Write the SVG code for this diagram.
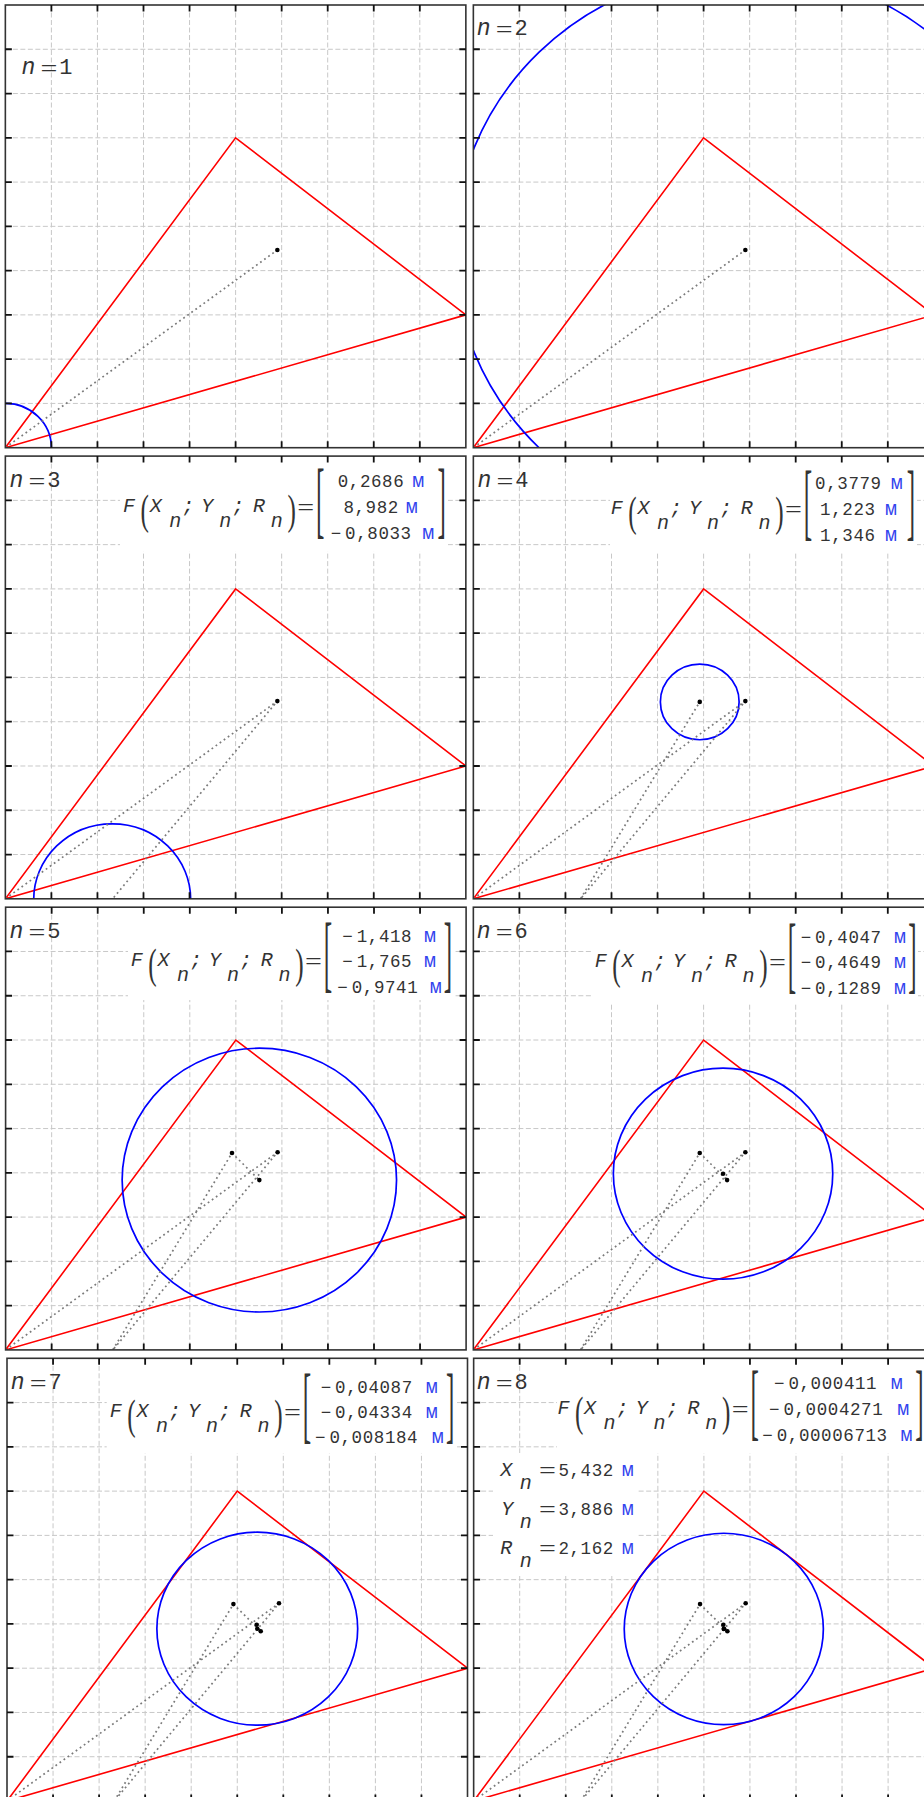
<svg xmlns="http://www.w3.org/2000/svg" xmlns:xlink="http://www.w3.org/1999/xlink" width="924" height="1797" viewBox="0 0 924 1797">
<style>
.grid{fill:none;stroke:#c8c8c8;stroke-width:1;stroke-dasharray:5 2.5}
.frame{fill:none;stroke:#333;stroke-width:1.6}
.ticks{fill:none;stroke:#111;stroke-width:1.8}
.tri{fill:none;stroke:#ff0000;stroke-width:1.6;stroke-linejoin:miter}
.circ{fill:none;stroke:#0000ff;stroke-width:1.7}
.path{fill:none;stroke:#7a7a7a;stroke-width:1.7;stroke-dasharray:1.8 3.2}
.dot{fill:#000}
.wb{fill:#fff}
.v{font-family:"Liberation Mono",monospace;font-style:italic;font-size:20px;fill:#333}
.ln{font-family:"Liberation Mono",monospace;font-style:italic;font-size:23px;fill:#333}
.ld{font-family:"Liberation Mono",monospace;font-size:22px;fill:#333}
.eq{font-family:"Liberation Serif",serif;font-size:26px;fill:#333}
.par{font-family:"Liberation Serif",serif;font-size:42px;fill:#333}
.br{font-family:"Liberation Serif",serif;font-size:84px;fill:#333}
.val{font-family:"Liberation Mono",monospace;font-size:17.5px;fill:#333;letter-spacing:0.6px}
.u{fill:#3344ee;letter-spacing:0;font-size:20px}
</style>
<defs>
<clipPath id="pc"><rect x="0" y="0" width="460.5" height="442.7"/></clipPath>
<path id="grid" class="grid" d="M46.05 0V442.7M92.1 0V442.7M138.15 0V442.7M184.2 0V442.7M230.25 0V442.7M276.3 0V442.7M322.35 0V442.7M368.4 0V442.7M414.45 0V442.7M0 44.27H460.5M0 88.54H460.5M0 132.81H460.5M0 177.08H460.5M0 221.35H460.5M0 265.62H460.5M0 309.89H460.5M0 354.16H460.5M0 398.43H460.5"/>
<polygon id="tri" class="tri" points="0,442.7 230.25,132.81 460.5,309.89"/>
<g id="frame">
<rect class="frame" x="0" y="0" width="460.5" height="442.7"/>
<path class="ticks" d="M46.05 0v6.5M92.1 0v6.5M138.15 0v6.5M184.2 0v6.5M230.25 0v6.5M276.3 0v6.5M322.35 0v6.5M368.4 0v6.5M414.45 0v6.5M46.05 442.7v-6.5M92.1 442.7v-6.5M138.15 442.7v-6.5M184.2 442.7v-6.5M230.25 442.7v-6.5M276.3 442.7v-6.5M322.35 442.7v-6.5M368.4 442.7v-6.5M414.45 442.7v-6.5M0 44.27h6.5M0 88.54h6.5M0 132.81h6.5M0 177.08h6.5M0 221.35h6.5M0 265.62h6.5M0 309.89h6.5M0 354.16h6.5M0 398.43h6.5M460.5 44.27h-6.5M460.5 88.54h-6.5M460.5 132.81h-6.5M460.5 177.08h-6.5M460.5 221.35h-6.5M460.5 265.62h-6.5M460.5 309.89h-6.5M460.5 354.16h-6.5M460.5 398.43h-6.5"/>
</g>
</defs>
<rect x="0" y="0" width="924" height="1797" fill="#fff"/>

<!-- Panel n=1 -->
<g id="panel-n1">
<g transform="translate(5.35,5)">
<use href="#grid"/>
<g clip-path="url(#pc)">
<use href="#tri"/>
<ellipse class="circ" cx="0" cy="442.7" rx="46.05" ry="44.27"/>
<g class="connectors"><polyline class="path" points="0,442.7 272,245"/></g>
<circle class="dot" cx="272" cy="245" r="2.3"/>
</g>
<use href="#frame"/>
</g>
<text class="ln" x="21.5" y="74">n</text>
<text class="eq" transform="translate(40.5,77) scale(1.15,1)">=</text>
<text class="ld" x="59.3" y="74">1</text>
</g>

<!-- Panel n=2 -->
<g id="panel-n2">
<g transform="translate(473.35,5)">
<use href="#grid"/>
<g clip-path="url(#pc)">
<use href="#tri"/>
<ellipse class="circ" cx="272" cy="245" rx="291.3" ry="280.1"/>
<g class="connectors"><polyline class="path" points="0,442.7 272,245"/></g>
<circle class="dot" cx="272" cy="245" r="2.3"/>
</g>
<use href="#frame"/>
</g>
<text class="ln" x="476.8" y="35">n</text>
<text class="eq" transform="translate(495.8,38) scale(1.15,1)">=</text>
<text class="ld" x="514.6" y="35">2</text>
</g>

<!-- Panel n=3 -->
<g id="panel-n3">
<g transform="translate(5.35,456.1)">
<use href="#grid"/>
<rect class="wb" x="114.65" y="0" width="328" height="94.9"/>
<g clip-path="url(#pc)">
<use href="#tri"/>
<ellipse class="circ" cx="106.84" cy="443.2" rx="78.47" ry="75.44"/>
<g class="connectors"><polyline class="path" points="0,442.7 272,245 106.84,443.23"/></g>
<circle class="dot" cx="272" cy="245" r="2.3"/>
</g>
<use href="#frame"/>
</g>
<text class="ln" x="9.5" y="486.7">n</text>
<text class="eq" transform="translate(28.5,489.7) scale(1.15,1)">=</text>
<text class="ld" x="47.3" y="486.7">3</text>
<text class="v" x="123" y="512">F</text>
<text class="par" transform="translate(140.5,523.6) scale(0.6,1)">(</text>
<text class="v" x="149.7" y="512">X</text>
<text class="v" x="169.2" y="527">n</text>
<text class="v" x="182.2" y="512">;</text>
<text class="v" x="201.3" y="512">Y</text>
<text class="v" x="219.2" y="527">n</text>
<text class="v" x="232.2" y="512">;</text>
<text class="v" x="253" y="512">R</text>
<text class="v" x="270.8" y="527">n</text>
<text class="par" transform="translate(287.6,523.6) scale(0.6,1)">)</text>
<text class="eq" transform="translate(297.3,516.1) scale(1.15,1)">=</text>
<text class="br" transform="translate(316,528.3) scale(0.3,1)">[</text>
<text class="br" transform="translate(437.5,528.3) scale(0.3,1)">]</text>
<text class="val" y="487"><tspan x="337.7">0,2686</tspan><tspan class="u" x="412.3">м</tspan></text>
<text class="val" y="513"><tspan x="343.4">8,982</tspan><tspan class="u" x="405.7">м</tspan></text>
<text class="val" y="539"><tspan x="330.7">−</tspan><tspan x="345.1">0,8033</tspan><tspan class="u" x="422.3">м</tspan></text>
</g>

<!-- Panel n=4 -->
<g id="panel-n4">
<g transform="translate(473.35,456.1)">
<use href="#grid"/>
<rect class="wb" x="136.65" y="0" width="307" height="97"/>
<g clip-path="url(#pc)">
<use href="#tri"/>
<ellipse class="circ" cx="226.4" cy="245.8" rx="39.37" ry="37.85"/>
<g class="connectors"><polyline class="path" points="0,442.7 272,245 106.84,443.23 226.4,245.8"/></g>
<circle class="dot" cx="272" cy="245" r="2.3"/>
<circle class="dot" cx="226.4" cy="245.8" r="2.3"/>
</g>
<use href="#frame"/>
</g>
<text class="ln" x="477.5" y="486.7">n</text>
<text class="eq" transform="translate(496.5,489.7) scale(1.15,1)">=</text>
<text class="ld" x="515.3" y="486.7">4</text>
<text class="v" x="610.7" y="514">F</text>
<text class="par" transform="translate(628.2,525.6) scale(0.6,1)">(</text>
<text class="v" x="637.4" y="514">X</text>
<text class="v" x="656.9" y="529">n</text>
<text class="v" x="669.9" y="514">;</text>
<text class="v" x="689" y="514">Y</text>
<text class="v" x="706.9" y="529">n</text>
<text class="v" x="719.9" y="514">;</text>
<text class="v" x="740.7" y="514">R</text>
<text class="v" x="758.5" y="529">n</text>
<text class="par" transform="translate(775.3,525.6) scale(0.6,1)">)</text>
<text class="eq" transform="translate(785,518.1) scale(1.15,1)">=</text>
<text class="br" transform="translate(803.7,530.3) scale(0.3,1)">[</text>
<text class="br" transform="translate(906.7,530.3) scale(0.3,1)">]</text>
<text class="val" y="489"><tspan x="815.1">0,3779</tspan><tspan class="u" x="890.7">м</tspan></text>
<text class="val" y="515"><tspan x="820.1">1,223</tspan><tspan class="u" x="885">м</tspan></text>
<text class="val" y="541"><tspan x="820.1">1,346</tspan><tspan class="u" x="885">м</tspan></text>
</g>

<!-- Panel n=5 -->
<g id="panel-n5">
<g transform="translate(5.6,907.2)">
<use href="#grid"/>
<rect class="wb" x="122.4" y="0" width="327" height="92.8"/>
<g clip-path="url(#pc)">
<use href="#tri"/>
<ellipse class="circ" cx="253.74" cy="272.92" rx="137.2" ry="131.9"/>
<g class="connectors"><polyline class="path" points="0,442.7 272,245 106.84,443.23 226.4,245.8 253.74,272.92"/></g>
<circle class="dot" cx="272" cy="245" r="2.3"/>
<circle class="dot" cx="226.4" cy="245.8" r="2.3"/>
<circle class="dot" cx="253.74" cy="272.92" r="2.3"/>
</g>
<use href="#frame"/>
</g>
<text class="ln" x="9.5" y="937.7">n</text>
<text class="eq" transform="translate(28.5,940.7) scale(1.15,1)">=</text>
<text class="ld" x="47.3" y="937.7">5</text>
<text class="v" x="130.7" y="966">F</text>
<text class="par" transform="translate(148.2,977.6) scale(0.6,1)">(</text>
<text class="v" x="157.4" y="966">X</text>
<text class="v" x="176.9" y="981">n</text>
<text class="v" x="189.9" y="966">;</text>
<text class="v" x="209" y="966">Y</text>
<text class="v" x="226.9" y="981">n</text>
<text class="v" x="239.9" y="966">;</text>
<text class="v" x="260.7" y="966">R</text>
<text class="v" x="278.5" y="981">n</text>
<text class="par" transform="translate(295.3,977.6) scale(0.6,1)">)</text>
<text class="eq" transform="translate(305,970.1) scale(1.15,1)">=</text>
<text class="br" transform="translate(323.7,982.3) scale(0.3,1)">[</text>
<text class="br" transform="translate(443.7,982.3) scale(0.3,1)">]</text>
<text class="val" y="942"><tspan x="342.3">−</tspan><tspan x="356.7">1,418</tspan><tspan class="u" x="424">м</tspan></text>
<text class="val" y="967"><tspan x="342.3">−</tspan><tspan x="356.7">1,765</tspan><tspan class="u" x="424">м</tspan></text>
<text class="val" y="993"><tspan x="337.3">−</tspan><tspan x="351.7">0,9741</tspan><tspan class="u" x="429.7">м</tspan></text>
</g>

<!-- Panel n=6 -->
<g id="panel-n6">
<g transform="translate(473.35,907.2)">
<use href="#grid"/>
<rect class="wb" x="119.65" y="0" width="325" height="96.8"/>
<g clip-path="url(#pc)">
<use href="#tri"/>
<ellipse class="circ" cx="249.7" cy="266.5" rx="109.7" ry="105.5"/>
<g class="connectors"><polyline class="path" points="0,442.7 272,245 106.84,443.23 226.4,245.8 253.74,272.92 249.7,266.5"/></g>
<circle class="dot" cx="272" cy="245" r="2.3"/>
<circle class="dot" cx="226.4" cy="245.8" r="2.3"/>
<circle class="dot" cx="253.74" cy="272.92" r="2.3"/>
<circle class="dot" cx="249.7" cy="266.5" r="2.3"/>
</g>
<use href="#frame"/>
</g>
<text class="ln" x="476.8" y="937.7">n</text>
<text class="eq" transform="translate(495.8,940.7) scale(1.15,1)">=</text>
<text class="ld" x="514.6" y="937.7">6</text>
<text class="v" x="594.7" y="967">F</text>
<text class="par" transform="translate(612.2,978.6) scale(0.6,1)">(</text>
<text class="v" x="621.4" y="967">X</text>
<text class="v" x="640.9" y="982">n</text>
<text class="v" x="653.9" y="967">;</text>
<text class="v" x="673" y="967">Y</text>
<text class="v" x="690.9" y="982">n</text>
<text class="v" x="703.9" y="967">;</text>
<text class="v" x="724.7" y="967">R</text>
<text class="v" x="742.5" y="982">n</text>
<text class="par" transform="translate(759.3,978.6) scale(0.6,1)">)</text>
<text class="eq" transform="translate(769,971.1) scale(1.15,1)">=</text>
<text class="br" transform="translate(787.7,983.3) scale(0.3,1)">[</text>
<text class="br" transform="translate(908.2,983.3) scale(0.3,1)">]</text>
<text class="val" y="943"><tspan x="800.7">−</tspan><tspan x="815.1">0,4047</tspan><tspan class="u" x="894">м</tspan></text>
<text class="val" y="968"><tspan x="800.7">−</tspan><tspan x="815.1">0,4649</tspan><tspan class="u" x="894">м</tspan></text>
<text class="val" y="993.5"><tspan x="800.7">−</tspan><tspan x="815.1">0,1289</tspan><tspan class="u" x="894">м</tspan></text>
</g>

<!-- Panel n=7 -->
<g id="panel-n7">
<g transform="translate(7,1358.3)">
<use href="#grid"/>
<rect class="wb" x="99.7" y="0" width="350.3" height="94.7"/>
<g clip-path="url(#pc)">
<use href="#tri"/>
<ellipse class="circ" cx="250.28" cy="270.4" rx="100.4" ry="96.5"/>
<g class="connectors"><polyline class="path" points="0,442.7 272,245 106.84,443.23 226.4,245.8 253.74,272.92 249.7,266.5 250.28,270.4"/></g>
<circle class="dot" cx="272" cy="245" r="2.3"/>
<circle class="dot" cx="226.4" cy="245.8" r="2.3"/>
<circle class="dot" cx="253.74" cy="272.92" r="2.3"/>
<circle class="dot" cx="249.7" cy="266.5" r="2.3"/>
<circle class="dot" cx="250.28" cy="270.4" r="2.3"/>
</g>
<use href="#frame"/>
</g>
<text class="ln" x="10.8" y="1389.3">n</text>
<text class="eq" transform="translate(29.8,1392.3) scale(1.15,1)">=</text>
<text class="ld" x="48.6" y="1389.3">7</text>
<text class="v" x="109.7" y="1417">F</text>
<text class="par" transform="translate(127.2,1428.6) scale(0.6,1)">(</text>
<text class="v" x="136.4" y="1417">X</text>
<text class="v" x="155.9" y="1432">n</text>
<text class="v" x="168.9" y="1417">;</text>
<text class="v" x="188" y="1417">Y</text>
<text class="v" x="205.9" y="1432">n</text>
<text class="v" x="218.9" y="1417">;</text>
<text class="v" x="239.7" y="1417">R</text>
<text class="v" x="257.5" y="1432">n</text>
<text class="par" transform="translate(274.3,1428.6) scale(0.6,1)">)</text>
<text class="eq" transform="translate(284,1421.1) scale(1.15,1)">=</text>
<text class="br" transform="translate(302.7,1433.3) scale(0.3,1)">[</text>
<text class="br" transform="translate(445.9,1433.3) scale(0.3,1)">]</text>
<text class="val" y="1392.7"><tspan x="320.7">−</tspan><tspan x="335.1">0,04087</tspan><tspan class="u" x="425.7">м</tspan></text>
<text class="val" y="1418.3"><tspan x="320.7">−</tspan><tspan x="335.1">0,04334</tspan><tspan class="u" x="425.7">м</tspan></text>
<text class="val" y="1443.3"><tspan x="315">−</tspan><tspan x="329.4">0,008184</tspan><tspan class="u" x="431.7">м</tspan></text>
</g>

<!-- Panel n=8 -->
<g id="panel-n8">
<g transform="translate(473.65,1358.3)">
<use href="#grid"/>
<rect class="wb" x="83.35" y="0" width="378" height="94.7"/>
<rect class="wb" x="19.35" y="94.7" width="144" height="123"/>
<g clip-path="url(#pc)">
<use href="#tri"/>
<ellipse class="circ" cx="250.14" cy="270.67" rx="99.56" ry="95.71"/>
<g class="connectors"><polyline class="path" points="0,442.7 272,245 106.84,443.23 226.4,245.8 253.74,272.92 249.7,266.5 250.28,270.4 250.14,270.67"/></g>
<circle class="dot" cx="272" cy="245" r="2.3"/>
<circle class="dot" cx="226.4" cy="245.8" r="2.3"/>
<circle class="dot" cx="253.74" cy="272.92" r="2.3"/>
<circle class="dot" cx="249.7" cy="266.5" r="2.3"/>
<circle class="dot" cx="250.28" cy="270.4" r="2.3"/>
<circle class="dot" cx="250.14" cy="270.67" r="2.3"/>
</g>
<use href="#frame"/>
</g>
<text class="ln" x="476.8" y="1389.3">n</text>
<text class="eq" transform="translate(495.8,1392.3) scale(1.15,1)">=</text>
<text class="ld" x="514.6" y="1389.3">8</text>
<text class="v" x="557.4" y="1414">F</text>
<text class="par" transform="translate(574.9,1425.6) scale(0.6,1)">(</text>
<text class="v" x="584.1" y="1414">X</text>
<text class="v" x="603.6" y="1429">n</text>
<text class="v" x="616.6" y="1414">;</text>
<text class="v" x="635.7" y="1414">Y</text>
<text class="v" x="653.6" y="1429">n</text>
<text class="v" x="666.6" y="1414">;</text>
<text class="v" x="687.4" y="1414">R</text>
<text class="v" x="705.2" y="1429">n</text>
<text class="par" transform="translate(722,1425.6) scale(0.6,1)">)</text>
<text class="eq" transform="translate(731.7,1418.1) scale(1.15,1)">=</text>
<text class="br" transform="translate(750.4,1430.3) scale(0.3,1)">[</text>
<text class="br" transform="translate(915.2,1430.3) scale(0.3,1)">]</text>
<text class="val" y="1389"><tspan x="774">−</tspan><tspan x="788.4">0,000411</tspan><tspan class="u" x="890.7">м</tspan></text>
<text class="val" y="1415"><tspan x="769">−</tspan><tspan x="783.4">0,0004271</tspan><tspan class="u" x="897.3">м</tspan></text>
<text class="val" y="1441"><tspan x="762.3">−</tspan><tspan x="776.7">0,00006713</tspan><tspan class="u" x="900.5">м</tspan></text>
<text class="v" x="500.3" y="1476">X</text>
<text class="v" x="519.8" y="1489.3">n</text>
<text class="eq" transform="translate(539,1479.1) scale(1.15,1)">=</text>
<text class="val" y="1476"><tspan x="558.4">5,432</tspan><tspan class="u" x="621.7">м</tspan></text>
<text class="v" x="501.3" y="1515">Y</text>
<text class="v" x="519.8" y="1528.3">n</text>
<text class="eq" transform="translate(539,1518.1) scale(1.15,1)">=</text>
<text class="val" y="1515"><tspan x="558.4">3,886</tspan><tspan class="u" x="621.7">м</tspan></text>
<text class="v" x="500.3" y="1554">R</text>
<text class="v" x="519.8" y="1567.3">n</text>
<text class="eq" transform="translate(539,1557.1) scale(1.15,1)">=</text>
<text class="val" y="1554"><tspan x="558.4">2,162</tspan><tspan class="u" x="621.7">м</tspan></text>
</g>
</svg>
